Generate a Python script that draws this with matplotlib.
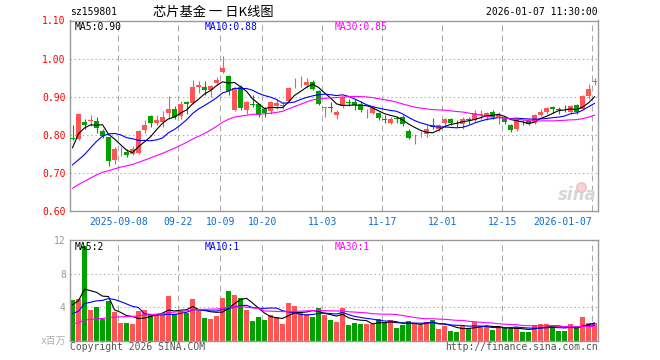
import numpy as np
import pandas as pd
import matplotlib
matplotlib.use("Agg")
import matplotlib.pyplot as plt

# daily K-line of sz159801, 2025-08-27 .. 2026-01-07 (88 sessions)
opens = [0.792, 0.789, 0.834, 0.835, 0.837, 0.810, 0.793, 0.733, 0.762, 0.755,
         0.749, 0.752, 0.813, 0.850, 0.830, 0.834, 0.856, 0.868, 0.850, 0.887,
         0.883, 0.925, 0.925, 0.917, 0.936, 0.966, 0.954, 0.866, 0.925, 0.866,
         0.880, 0.880, 0.869, 0.862, 0.875, 0.875, 0.890, 0.943, 0.935, 0.932,
         0.939, 0.915, 0.871, 0.874, 0.851, 0.875, 0.885, 0.886, 0.882, 0.859,
         0.858, 0.858, 0.841, 0.832, 0.843, 0.846, 0.811, 0.793, 0.801, 0.803,
         0.826, 0.816, 0.831, 0.842, 0.832, 0.828, 0.841, 0.840, 0.851, 0.846,
         0.860, 0.844, 0.842, 0.827, 0.814, 0.832, 0.836, 0.832, 0.853, 0.860,
         0.873, 0.868, 0.863, 0.860, 0.877, 0.868, 0.902, 0.939]
highs = [0.825, 0.856, 0.841, 0.852, 0.847, 0.815, 0.795, 0.767, 0.767, 0.762,
         0.770, 0.812, 0.840, 0.853, 0.852, 0.863, 0.903, 0.876, 0.889, 0.889,
         0.944, 0.942, 0.941, 0.930, 0.952, 1.008, 0.956, 0.925, 0.932, 0.890,
         0.904, 0.882, 0.873, 0.890, 0.895, 0.886, 0.925, 0.950, 0.954, 0.950,
         0.943, 0.918, 0.873, 0.885, 0.864, 0.899, 0.895, 0.893, 0.890, 0.868,
         0.875, 0.860, 0.851, 0.846, 0.849, 0.851, 0.814, 0.803, 0.811, 0.825,
         0.844, 0.829, 0.844, 0.844, 0.838, 0.846, 0.846, 0.864, 0.864, 0.861,
         0.864, 0.860, 0.846, 0.829, 0.844, 0.838, 0.842, 0.855, 0.867, 0.873,
         0.875, 0.873, 0.877, 0.877, 0.880, 0.904, 0.934, 0.949]
lows = [0.786, 0.786, 0.815, 0.824, 0.804, 0.791, 0.718, 0.723, 0.744, 0.743,
        0.746, 0.750, 0.806, 0.821, 0.826, 0.821, 0.842, 0.841, 0.841, 0.855,
        0.881, 0.911, 0.904, 0.900, 0.930, 0.962, 0.904, 0.862, 0.864, 0.854,
        0.873, 0.848, 0.848, 0.855, 0.868, 0.868, 0.889, 0.923, 0.925, 0.923,
        0.917, 0.877, 0.848, 0.860, 0.842, 0.870, 0.876, 0.864, 0.860, 0.844,
        0.855, 0.840, 0.832, 0.829, 0.830, 0.823, 0.788, 0.776, 0.794, 0.794,
        0.814, 0.811, 0.820, 0.825, 0.820, 0.815, 0.829, 0.833, 0.842, 0.838,
        0.842, 0.829, 0.829, 0.807, 0.809, 0.825, 0.825, 0.829, 0.849, 0.855,
        0.858, 0.855, 0.860, 0.855, 0.855, 0.867, 0.895, 0.930]
closes = [0.790, 0.854, 0.825, 0.838, 0.819, 0.796, 0.730, 0.762, 0.764, 0.747,
          0.762, 0.810, 0.825, 0.830, 0.840, 0.847, 0.868, 0.848, 0.882, 0.881,
          0.926, 0.930, 0.917, 0.927, 0.945, 0.976, 0.915, 0.923, 0.871, 0.886,
          0.878, 0.851, 0.858, 0.886, 0.883, 0.879, 0.924, 0.945, 0.937, 0.939,
          0.919, 0.882, 0.873, 0.871, 0.861, 0.898, 0.884, 0.877, 0.864, 0.860,
          0.870, 0.844, 0.839, 0.842, 0.841, 0.829, 0.791, 0.795, 0.803, 0.816,
          0.821, 0.826, 0.842, 0.831, 0.830, 0.842, 0.839, 0.858, 0.855, 0.858,
          0.846, 0.851, 0.833, 0.813, 0.842, 0.830, 0.829, 0.853, 0.861, 0.870,
          0.867, 0.866, 0.862, 0.875, 0.860, 0.901, 0.921, 0.942]
# volume, millions of shares
volumes = [4.84, 4.96, 11.3, 3.65, 4.00, 2.58, 4.72, 3.37, 2.14, 2.10,
           1.98, 3.53, 3.65, 3.06, 3.06, 3.06, 5.32, 3.13, 3.53, 3.33,
           4.96, 3.61, 2.70, 2.58, 2.98, 5.08, 5.91, 5.44, 5.08, 3.65,
           2.34, 2.82, 2.46, 3.06, 2.86, 1.98, 4.48, 4.17, 3.25, 3.13,
           2.86, 3.93, 3.06, 2.46, 2.26, 3.93, 1.87, 2.10, 1.98, 1.98,
           1.98, 2.54, 2.14, 2.46, 1.51, 1.90, 2.34, 1.98, 1.87, 2.22,
           2.50, 1.39, 1.79, 1.15, 1.03, 1.75, 1.47, 2.18, 1.75, 1.63,
           1.31, 1.47, 1.47, 1.39, 1.67, 1.03, 1.03, 1.87, 1.98, 1.98,
           1.75, 1.15, 1.15, 1.98, 1.47, 2.82, 2.10, 2.10]

# the 29 sessions before the first visible one (only feed the moving averages)
hist_closes = [0.56, 0.57, 0.58, 0.58, 0.59, 0.60, 0.62, 0.63, 0.64, 0.65,
               0.64, 0.66, 0.65, 0.66, 0.67, 0.66, 0.65, 0.66, 0.65, 0.66,
               0.72, 0.69, 0.66, 0.65, 0.66, 0.67, 0.75, 0.798, 0.823]
hist_volumes = [1.6, 1.4, 1.5, 1.7, 1.3, 1.5, 1.6, 1.4, 1.2, 1.3,
                1.4, 1.2, 1.5, 1.3, 1.4, 1.2, 1.3, 1.4, 1.3, 1.5,
                2.0, 2.2, 2.1, 2.3, 2.1, 2.5, 4.5, 4.5, 5.0]

tick_idx = [8, 18, 25, 32, 42, 52, 62, 72, 87]
tick_labels = ['2025-09-08', '09-22', '10-09', '10-20', '11-03', '11-17',
               '12-01', '12-15', '2026-01-07']
price_ticks = [0.60, 0.70, 0.80, 0.90, 1.00, 1.10]
vol_ticks = [4, 8, 12]

RED = '#ff5555'
GREEN = '#00a000'
GRID = '#aaaaaa'
FRAME = '#999999'
MONO = 'DejaVu Sans Mono'

o = np.array(opens); h = np.array(highs); l = np.array(lows); c = np.array(closes)
v = np.array(volumes)
x = np.arange(len(c))
n_hist = len(hist_closes)

cs = pd.Series(hist_closes + closes)
vs = pd.Series(hist_volumes + volumes)
ma = {k: cs.rolling(k).mean().to_numpy()[n_hist:] for k in (5, 10, 30)}
vma = {k: vs.rolling(k).mean().to_numpy()[n_hist:] for k in (5, 10, 30)}
ma_colors = {5: 'black', 10: '#0000ff', 30: '#ff00ff'}

up = c >= o
colors = np.where(up, RED, GREEN)

W, H = 660, 360
fig = plt.figure(figsize=(6.6, 3.6), dpi=100)

def px_axes(left, top, right, bottom):
    return fig.add_axes([left / W, 1 - bottom / H, (right - left) / W, (bottom - top) / H])

def px_text(xp, yp, s, **kw):
    fig.text(xp / W, 1 - yp / H, s, va='center', **kw)

ax = px_axes(70, 20.5, 598, 211)
axv = px_axes(70, 240, 598, 340.5)

xlim = (-0.42, len(c) - 0.42)
grid_x = [i - 0.35 for i in tick_idx]

for a in (ax, axv):
    a.set_xlim(*xlim)
    for s in a.spines.values():
        s.set_color(FRAME)
        s.set_linewidth(1.0)
    for gx in grid_x:
        a.axvline(gx, color=GRID, lw=0.75, ls=(0, (5.8, 3.8)), zorder=0)
    a.tick_params(length=0)

# price panel
ax.set_ylim(0.60, 1.10)
for p in price_ticks[1:-1]:
    ax.axhline(p, color=GRID, lw=0.75, ls=(0, (1.3, 2.7)), zorder=0)
ax.vlines(x, l, h, colors=colors, lw=0.8, zorder=2)
body = np.maximum(np.abs(c - o), 0.0016)
ax.bar(x, body, bottom=np.minimum(o, c), width=0.8, color=colors, linewidth=0, zorder=3)
for k in (5, 10, 30):
    ax.plot(x, ma[k], color=ma_colors[k], lw=0.8, zorder=4)

ax.set_yticks(price_ticks)
ax.set_yticklabels(['%.2f' % p for p in price_ticks], color='red', family=MONO, fontsize=7)
ax.tick_params(axis='y', pad=3)
ax.set_xticks(grid_x)
xl = ax.set_xticklabels(tick_labels, color='#0a6ecf', family=MONO, fontsize=7)
xl[-1].set_horizontalalignment('right')
ax.tick_params(axis='x', pad=4)

# sina watermark
ax.text(0.997, 0.035, 'sina', transform=ax.transAxes, ha='right', va='bottom',
        color='#d6d6d6', fontsize=12, fontweight='bold', style='italic', zorder=1)
ax.plot([0.968], [0.125], transform=ax.transAxes, marker='o', ms=7,
        mfc='#f3d4d4', mec='#e8bcbc', mew=0.8, zorder=1)

# volume panel
axv.set_ylim(0, 12)
for q in vol_ticks[:-1]:
    axv.axhline(q, color=GRID, lw=0.75, ls=(0, (1.3, 2.7)), zorder=0)
axv.bar(x, v, width=0.83, color=colors, linewidth=0, zorder=2)
for k in (5, 10, 30):
    axv.plot(x, vma[k], color=ma_colors[k], lw=0.8, zorder=3)
axv.set_yticks(vol_ticks)
axv.set_yticklabels([str(t) for t in vol_ticks], color='#999999', family=MONO, fontsize=7)
axv.tick_params(axis='y', pad=3)
axv.set_xticks([])

# header
px_text(70, 12, 'sz159801', ha='left', family=MONO, fontsize=7)
px_text(213, 12, '芯片基金 一 日K线图', ha='center', family=['Noto Sans CJK SC', 'DejaVu Sans'],
        fontsize=9.5)
px_text(598, 12, '2026-01-07 11:30:00', ha='right', family=MONO, fontsize=7)

# MA legends
px_text(75, 27, 'MA5:%.2f' % ma[5][-1], ha='left', family=MONO, fontsize=7, color='black')
px_text(205, 27, 'MA10:%.2f' % ma[10][-1], ha='left', family=MONO, fontsize=7, color='#0000ff')
px_text(335, 27, 'MA30:%.2f' % ma[30][-1], ha='left', family=MONO, fontsize=7, color='#ff00ff')
px_text(75, 247, 'MA5:%d' % int(vma[5][-1]), ha='left', family=MONO, fontsize=7, color='black')
px_text(205, 247, 'MA10:%d' % int(vma[10][-1]), ha='left', family=MONO, fontsize=7, color='#0000ff')
px_text(335, 247, 'MA30:%d' % int(vma[30][-1]), ha='left', family=MONO, fontsize=7, color='#ff00ff')

# footer
px_text(66, 341, 'x百万', ha='right', family=[MONO, 'Noto Sans CJK SC'], fontsize=7, color='#b0b0b0')
px_text(70, 347, 'Copyright 2026 SINA.COM', ha='left', family=MONO, fontsize=7, color='#555555')
px_text(598, 347, 'http://finance.sina.com.cn', ha='right', family=MONO, fontsize=7, color='#555555')

fig.savefig('out.png', dpi=100)
